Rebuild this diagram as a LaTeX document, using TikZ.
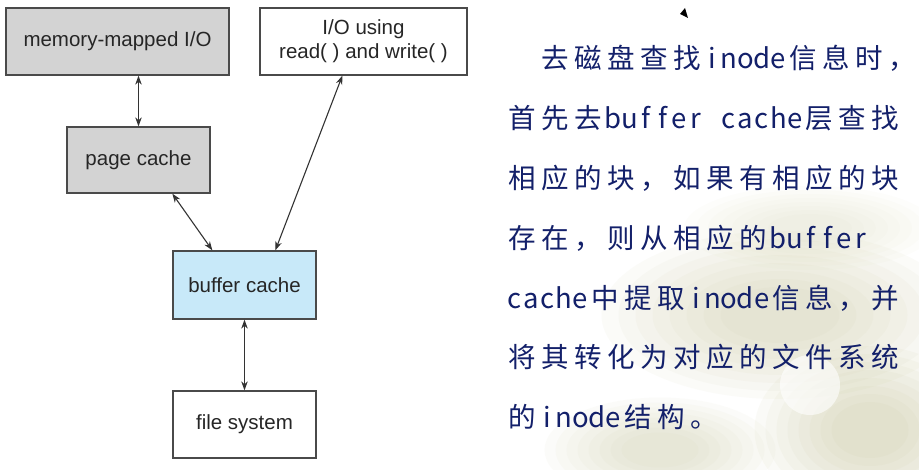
\documentclass[tikz,border=0pt]{standalone}
\usepackage{fontspec}
\setmainfont{Liberation Sans}
\newfontfamily\cjk{Noto Sans CJK SC}
\usetikzlibrary{arrows.meta,calc}
\definecolor{boxgray}{HTML}{D3D3D3}
\definecolor{boxblue}{HTML}{C8E9F9}
\definecolor{edge}{HTML}{4A4A4A}
\definecolor{navy}{HTML}{13206A}
\definecolor{olive}{HTML}{C4C394}
\makeatletter
\def\gridloop#1{\ifx\relax#1\else\ifnum`#1>255 \makebox[33pt]{#1}\else\makebox[16.5pt]{#1}\fi\expandafter\gridloop\fi}
\newcommand\gridline[1]{\gridloop#1\relax}
\makeatother
\newcommand\softblob[5]{% x y rx ry opacity
  \foreach \k in {1,...,8}{%
    \fill[olive, opacity=#5] (#1,#2) ellipse [x radius={#3*(1.15-0.1*\k)}, y radius={#4*(1.15-0.1*\k)}];}}
\tikzset{
  box/.style={draw=edge, line width=1.3pt, text=black!85, inner sep=0pt,
    font=\fontsize{20.5}{24}\selectfont, align=center},
  grayb/.style={box, fill=boxgray},
  link/.style={draw=black!80, line width=1.1pt,
    {Stealth[length=9pt,width=6.5pt]}-{Stealth[length=9pt,width=6.5pt]}},
  zh/.style={anchor=base west, inner sep=0pt, text=navy,
    font=\cjk\fontsize{27.5}{27.5}\selectfont},
}
\begin{document}
\begin{tikzpicture}[x=1pt,y=-1pt]
\useasboundingbox[fill=white] (0,0) rectangle (919,470);
% watermark
\softblob{810}{228}{120}{40}{0.03}
\softblob{780}{315}{170}{80}{0.06}
\softblob{870}{430}{110}{80}{0.07}
\softblob{660}{450}{110}{50}{0.05}
\fill[white, opacity=0.6] (810,385) circle [radius=30];
% diagram
\node[grayb, minimum width=223pt, minimum height=67pt] (mm) at (117.5,41.5) {memory-mapped I/O};
\node[box, fill=white, minimum width=207pt, minimum height=67pt] (io) at (363.5,41.5) {I/O using\\read( ) and write( )};
\node[grayb, minimum width=143pt, minimum height=66pt] (pc) at (138.5,160) {page cache};
\node[box, fill=boxblue, minimum width=143pt, minimum height=68pt] (bc) at (244.5,285) {buffer cache};
\node[box, fill=white, minimum width=143pt, minimum height=67pt] (fs) at (244.5,424.5) {file system};
\draw[link] (mm.south -| pc.north) -- (pc.north);
\draw[link] ($(pc.south west)+(106,0)$) -- ($(bc.north west)+(40,0)$);
\draw[link] ($(io.south west)+(83,0)$) -- ($(bc.north west)+(103,0)$);
\draw[link] (bc.south) -- (fs.north);
% cursor mark
\fill[black] (680,14) -- (685,8) -- (688,18) -- cycle;
% text
\node[zh] (l1) at (539,69) {\gridline{去磁盘查找inode信息时，}};
\node[zh] (l2) at (506,128.8) {\gridline{首先去buffer\ cache层查找}};
\node[zh] (l3) at (506,188.6) {\gridline{相应的块，如果有相应的块}};
\node[zh] (l4) at (506,248.4) {\gridline{存在，则从相应的buffer}};
\node[zh] (l5) at (506,308.2) {\gridline{cache中提取inode信息，并}};
\node[zh] (l6) at (506,368) {\gridline{将其转化为对应的文件系统}};
\node[zh] (l7) at (506,427.8) {\gridline{的inode结构。}};
\end{tikzpicture}
\end{document}
